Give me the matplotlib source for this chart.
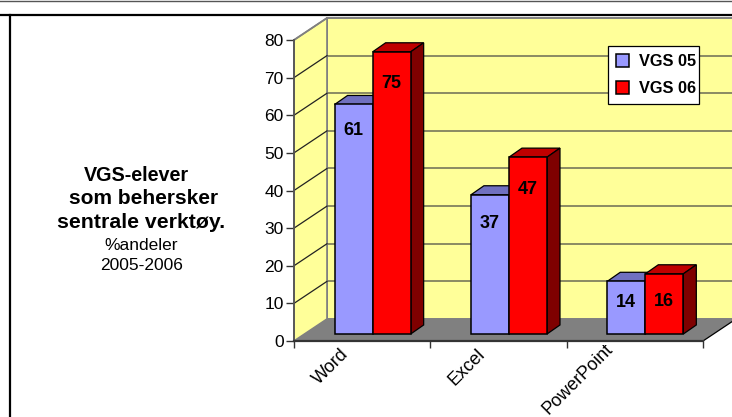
import matplotlib
matplotlib.use("Agg")
import matplotlib.pyplot as plt
from matplotlib.patches import Polygon
from matplotlib.transforms import Bbox

plt.rcParams['font.family'] = ['Liberation Sans', 'DejaVu Sans']

categories = ["Word", "Excel", "PowerPoint"]
vgs_05 = [61, 37, 14]
vgs_06 = [75, 47, 16]
series_names = ["VGS 05", "VGS 06"]
y_ticks = [0, 10, 20, 30, 40, 50, 60, 70, 80]

W, H = 732, 417
LEFT, RIGHT, BOTTOM, TOP = 294, 703, 341, 40

# 3d look, everything in data units
wall_dx, wall_dy = 0.242, 5.85
bar_dx, bar_dy = 0.095, 2.4
front_dx, front_dy = 0.077, 1.86
bar_w = 0.279

fig = plt.figure(figsize=(W / 100, H / 100), dpi=100)
ax = fig.add_axes([LEFT / W, 1 - BOTTOM / H, (RIGHT - LEFT) / W, (BOTTOM - TOP) / H])
ax.set_xlim(0, 3)
ax.set_ylim(0, 80)
ax.patch.set_visible(False)
for s in ['top', 'right']:
    ax.spines[s].set_visible(False)
ax.spines['left'].set_color('#555555')
ax.spines['left'].set_linewidth(1.3)
ax.spines['bottom'].set_color('#333333')
ax.spines['bottom'].set_linewidth(1.6)

# page lines
fig.add_artist(plt.Line2D([0, 1], [1 - 1 / H, 1 - 1 / H], color='#555555', lw=1.0))
fig.add_artist(plt.Line2D([0, 1], [1 - 14.5 / H, 1 - 14.5 / H], color='black', lw=1.6))
fig.add_artist(plt.Line2D([9.7 / W, 9.7 / W], [0, 1 - 14.5 / H], color='black', lw=1.6))

# walls and floor
ax.add_patch(Polygon([(0, 0), (wall_dx, wall_dy), (wall_dx, 80 + wall_dy), (0, 80)],
                     fc='#FFFF99', ec='#808080', lw=1.2, clip_on=False, zorder=0.5))
ax.add_patch(Polygon([(wall_dx, wall_dy), (3.3, wall_dy), (3.3, 80 + wall_dy), (wall_dx, 80 + wall_dy)],
                     fc='#FFFF99', ec='#808080', lw=1.4, clip_on=False, zorder=0.4))
ax.add_patch(Polygon([(0, 0), (3, 0), (3 + wall_dx, wall_dy), (wall_dx, wall_dy)],
                     fc='#808080', ec='none', clip_on=False, zorder=0.6))
ax.plot([3, 3 + wall_dx], [0, wall_dy], color='black', lw=0.9, clip_on=False, zorder=0.7)

# grid on both walls
for v in y_ticks[1:-1]:
    ax.plot([0, wall_dx], [v, v + wall_dy], color='#222222', lw=0.9, clip_on=False, zorder=0.7)
    ax.plot([wall_dx, 3.3], [v + wall_dy, v + wall_dy], color='#77775A', lw=1.2, clip_on=False, zorder=0.45)
ax.plot([0, wall_dx], [80, 80 + wall_dy], color='#808080', lw=1.2, clip_on=False, zorder=0.7)


def draw_bars(offset, values, front, top, side, zorder):
    xs = [i + 0.5 + front_dx + offset * bar_w for i in range(len(values))]
    bars = ax.bar(xs, values, bar_w, bottom=front_dy, color=front, edgecolor='black',
                  linewidth=1.1, zorder=zorder + 0.1, clip_on=False)
    for x, v in zip(xs, values):
        l, r, t = x - bar_w / 2, x + bar_w / 2, v + front_dy
        ax.add_patch(Polygon([(l, t), (r, t), (r + bar_dx, t + bar_dy), (l + bar_dx, t + bar_dy)],
                             fc=top, ec='black', lw=0.9, clip_on=False, zorder=zorder))
        ax.add_patch(Polygon([(r, front_dy), (r + bar_dx, front_dy + bar_dy), (r + bar_dx, t + bar_dy), (r, t)],
                             fc=side, ec='black', lw=0.9, clip_on=False, zorder=zorder))
    return xs, bars


xs_05, bars_05 = draw_bars(-0.5, vgs_05, '#9999FF', '#7070C0', '#4D4D80', 2)
xs_06, bars_06 = draw_bars(0.5, vgs_06, '#FF0000', '#BF0000', '#7F0000', 3)

# value labels sit a bit below the top of each bar, pixels as in the picture
nudge_05 = [-26, -29, -21]
nudge_06 = [-32, -32, -28]
for xs, vals, nudge in [(xs_05, vgs_05, nudge_05), (xs_06, vgs_06, nudge_06)]:
    for x, v, n in zip(xs, vals, nudge):
        ax.annotate(str(v), (x, v + front_dy), xytext=(0, n), textcoords='offset pixels',
                    ha='center', va='center', fontsize=13, fontweight='bold', color='black', zorder=5)

# axes ticks
ax.set_yticks(y_ticks)
ax.tick_params(axis='y', length=6, width=1.0, color='#333333', pad=1.5, labelsize=12.5)
ax.set_xticks([0, 1, 2, 3])
ax.set_xticklabels([])
ax.tick_params(axis='x', length=5, width=1.0, color='#333333')

# PowerPoint is long, pull it up so the start stays inside the picture
label_shift_x = [-16, -16, -24]
label_shift_y = [-11, -11, -6]
for i, name in enumerate(categories):
    t = ax.annotate(name, (i + 0.5, 0), xytext=(label_shift_x[i], label_shift_y[i]), textcoords='offset pixels',
                    rotation=45, rotation_mode='anchor', ha='right', va='center',
                    fontsize=13, color='black', annotation_clip=False)
    if name == "PowerPoint":
        # top of the last letter is cut off in the source image
        t.set_clip_on(True)
        t.set_clip_box(Bbox.from_extents(0, 0, W, H - 345))

leg = ax.legend([bars_05, bars_06], series_names, loc='upper left',
                bbox_to_anchor=(608 / W, 1 - 99 / H, 91 / W, 53 / H),
                bbox_transform=fig.transFigure, mode='expand', borderaxespad=0,
                fancybox=False, framealpha=1, edgecolor='black',
                prop={'weight': 'bold', 'size': 11.8}, handlelength=0.8, handleheight=0.8,
                handletextpad=0.6, labelspacing=0.72, borderpad=0.5)
leg.get_frame().set_linewidth(0.9)
leg.set_zorder(6)

# title block left of the plot
title_lines = ["VGS-elever", "som behersker", "sentrale verktøy.", "%andeler", "2005-2006"]
for line, px, py, size, weight in zip(title_lines,
                                      [136, 144, 141, 141, 142],
                                      [175, 199, 223, 245, 265],
                                      [14.2, 15, 15.3, 12.5, 12.5],
                                      ['bold', 'bold', 'bold', 'normal', 'normal']):
    fig.text(px / W, 1 - py / H, line, ha='center', va='center', fontsize=size, fontweight=weight, color='black')

fig.savefig("out.png", dpi=100)
